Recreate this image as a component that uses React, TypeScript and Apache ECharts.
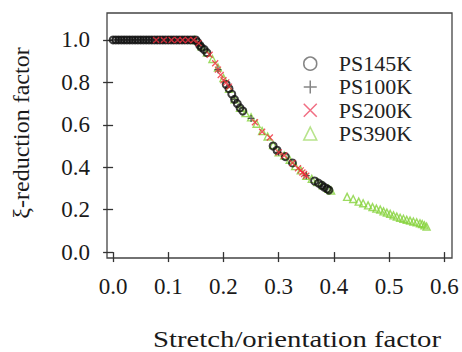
import React, { useEffect, useRef } from "react";
import * as echarts from "echarts";

const xTicks = [0.0, 0.1, 0.2, 0.3, 0.4, 0.5, 0.6];
const yTicks = [0.0, 0.2, 0.4, 0.6, 0.8, 1.0];
const seriesNames = ["PS145K", "PS100K", "PS200K", "PS390K"];

const ps145kX = [
  0.0, 0.005, 0.01, 0.015, 0.02, 0.025, 0.03, 0.035, 0.04, 0.045, 0.05, 0.055, 0.06, 0.065, 0.07, 0.075,
  0.08, 0.085, 0.09, 0.095, 0.1, 0.105, 0.11, 0.115, 0.12, 0.125, 0.13, 0.135, 0.14, 0.145, 0.15,
  0.153, 0.157, 0.16, 0.165, 0.17, 0.205, 0.21, 0.215, 0.22, 0.225, 0.23, 0.235, 0.29, 0.297, 0.312,
  0.325, 0.365, 0.372, 0.378, 0.383, 0.388, 0.391,
];
const ps145kY = [
  1.0, 1.0, 1.0, 1.0, 1.0, 1.0, 1.0, 1.0, 1.0, 1.0, 1.0, 1.0, 1.0, 1.0, 1.0, 1.0,
  1.0, 1.0, 1.0, 1.0, 1.0, 1.0, 1.0, 1.0, 1.0, 1.0, 1.0, 1.0, 1.0, 1.0, 1.0,
  0.99, 0.975, 0.965, 0.955, 0.94, 0.79, 0.77, 0.745, 0.72, 0.7, 0.68, 0.665, 0.5, 0.48, 0.45,
  0.42, 0.335, 0.325, 0.315, 0.305, 0.298, 0.292,
];

const ps100kX = [
  0.0, 0.01, 0.02, 0.03, 0.04, 0.05, 0.06, 0.07, 0.08, 0.09, 0.1, 0.11, 0.12, 0.13, 0.14,
  0.16, 0.19, 0.22, 0.25, 0.3, 0.35, 0.38,
];
const ps100kY = [
  1.0, 1.0, 1.0, 1.0, 1.0, 1.0, 1.0, 1.0, 1.0, 1.0, 1.0, 1.0, 1.0, 1.0, 1.0,
  0.97, 0.86, 0.72, 0.63, 0.47, 0.36, 0.31,
];

const ps200kX = [
  0.078, 0.092, 0.106, 0.117, 0.126, 0.136, 0.146,
  0.155, 0.175, 0.185, 0.19, 0.195, 0.2, 0.205, 0.21, 0.257, 0.27, 0.284, 0.3, 0.31, 0.325, 0.335,
  0.34, 0.343, 0.346, 0.35,
];
const ps200kY = [
  1.0, 1.0, 1.0, 1.0, 1.0, 1.0, 1.0,
  0.985, 0.93, 0.89, 0.86, 0.835, 0.81, 0.8, 0.78, 0.612, 0.567, 0.54, 0.47, 0.455, 0.42, 0.395,
  0.385, 0.375, 0.368, 0.36,
];

const ps390kX = [
  0.148, 0.16, 0.17, 0.18, 0.19, 0.2, 0.21, 0.22, 0.23, 0.24, 0.25, 0.26, 0.27, 0.28, 0.29, 0.3,
  0.31, 0.32, 0.33, 0.34, 0.35, 0.36, 0.37, 0.38, 0.39, 0.395, 0.424, 0.435, 0.445, 0.453, 0.462,
  0.47, 0.477, 0.484, 0.49, 0.496, 0.502, 0.508, 0.514, 0.52, 0.526, 0.532, 0.538, 0.544, 0.55,
  0.556, 0.56, 0.564, 0.568,
];
const ps390kY = [
  1.0, 0.97, 0.94, 0.91, 0.87, 0.82, 0.77, 0.72, 0.68, 0.655, 0.635, 0.605, 0.57, 0.545, 0.505, 0.47,
  0.455, 0.435, 0.405, 0.385, 0.36, 0.345, 0.33, 0.315, 0.298, 0.29, 0.26, 0.25, 0.238, 0.23, 0.22,
  0.212, 0.205, 0.2, 0.192, 0.186, 0.18, 0.173, 0.167, 0.162, 0.157, 0.152, 0.148, 0.144, 0.14,
  0.136, 0.132, 0.126, 0.12,
];

const zip = (xs: number[], ys: number[]) => xs.map((x, i) => [x, ys[i]]);

const PLUS = "path://M5,0L5,10M0,5L10,5";
const CROSS = "path://M0,0L10,10M10,0L0,10";
const FONT = "'Liberation Serif', 'Times New Roman', serif";

export default function App() {
  const ref = useRef<HTMLDivElement>(null);
  useEffect(() => {
    if (!ref.current) return;
    const chart = echarts.init(ref.current, undefined, { renderer: "svg" });
    const clear = "rgba(0,0,0,0)";
    chart.setOption({
      animation: false,
      backgroundColor: "#ffffff",
      textStyle: { fontFamily: FONT },
      grid: {
        left: 107,
        top: 13,
        width: 345,
        height: 245,
        show: true,
        borderColor: "#444",
        borderWidth: 1.3,
      },
      xAxis: {
        type: "value",
        min: -0.011,
        max: 0.614,
        splitLine: { show: false },
        axisLine: { show: false },
        axisTick: {
          show: true,
          length: 10,
          customValues: xTicks,
          lineStyle: { color: "#333", width: 1.3 },
        },
        axisLabel: {
          customValues: xTicks,
          margin: 17,
          fontFamily: FONT,
          fontSize: 23,
          color: "#1a1a1a",
          formatter: (v: number) => v.toFixed(1),
        },
      },
      yAxis: {
        type: "value",
        min: -0.028,
        max: 1.127,
        splitLine: { show: false },
        axisLine: { show: false },
        axisTick: {
          show: true,
          length: 10,
          customValues: yTicks,
          lineStyle: { color: "#333", width: 1.3 },
        },
        axisLabel: {
          customValues: yTicks,
          margin: 17,
          fontFamily: FONT,
          fontSize: 23,
          color: "#1a1a1a",
          formatter: (v: number) => v.toFixed(1),
        },
      },
      legend: {
        orient: "vertical",
        left: 298,
        top: 47,
        itemWidth: 13,
        itemHeight: 13,
        itemGap: 0,
        textStyle: {
          fontFamily: FONT,
          fontSize: 22,
          lineHeight: 23.3,
          color: "#222",
          padding: [0, 0, 0, 17],
        },
        data: [
          { name: "PS145K", icon: "circle", itemStyle: { color: clear, borderColor: "#666", borderWidth: 1.5 } },
          { name: "PS100K", icon: PLUS, itemStyle: { color: clear, borderColor: "#666", borderWidth: 1.5 } },
          { name: "PS200K", icon: CROSS, itemStyle: { color: clear, borderColor: "#ee4a64", borderWidth: 1.5 } },
          { name: "PS390K", icon: "triangle", itemStyle: { color: clear, borderColor: "#a5dc6e", borderWidth: 1.5 } },
        ],
      },
      graphic: [
        {
          type: "text",
          x: 297,
          y: 339,
          scaleX: 1.25,
          style: {
            text: "Stretch/orientation factor",
            fontFamily: FONT,
            fontSize: 23,
            fill: "#1a1a1a",
            align: "center",
            verticalAlign: "middle",
          },
        },
        {
          type: "text",
          x: 21,
          y: 133,
          rotation: Math.PI / 2,
          style: {
            text: "ξ-reduction factor",
            fontFamily: FONT,
            fontSize: 24,
            fill: "#1a1a1a",
            align: "center",
            verticalAlign: "middle",
          },
        },
      ],
      series: [
        {
          name: seriesNames[3],
          type: "scatter",
          z: 2,
          symbol: "triangle",
          symbolSize: 7,
          itemStyle: { color: clear, borderColor: "#84d23a", borderWidth: 1.4 },
          data: zip(ps390kX, ps390kY),
        },
        {
          name: seriesNames[1],
          type: "scatter",
          z: 3,
          symbol: PLUS,
          symbolSize: 7,
          itemStyle: { color: clear, borderColor: "#333", borderWidth: 1.3 },
          data: zip(ps100kX, ps100kY),
        },
        {
          name: seriesNames[0],
          type: "scatter",
          z: 4,
          symbol: "circle",
          symbolSize: 7,
          itemStyle: { color: clear, borderColor: "#111", borderWidth: 2 },
          data: zip(ps145kX, ps145kY),
        },
        {
          name: seriesNames[2],
          type: "scatter",
          z: 5,
          symbol: CROSS,
          symbolSize: 6,
          itemStyle: { color: clear, borderColor: "#f02a3a", borderWidth: 1.3 },
          data: zip(ps200kX, ps200kY),
        },
      ],
    });
    return () => chart.dispose();
  }, []);
  return (
    <div
      ref={ref}
      style={{ position: "fixed", left: 0, top: 0, width: 462, height: 352, background: "#fff" }}
    />
  );
}
